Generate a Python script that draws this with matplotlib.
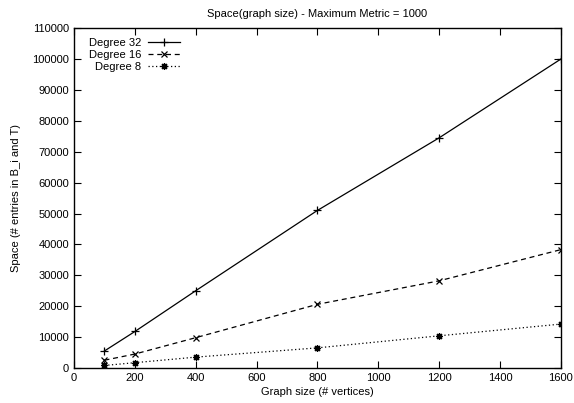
import matplotlib
matplotlib.use("Agg")
import matplotlib.pyplot as plt

# graph sizes (# vertices)
sizes = [100, 200, 400, 800, 1200, 1600]

# space (# entries in B_i and T) per degree
deg32 = [5500, 11800, 25000, 51000, 74500, 100000]
deg16 = [2500, 4500, 9800, 20600, 28200, 38300]
deg8 = [800, 1700, 3500, 6500, 10400, 14200]

xticks = list(range(0, 1601, 200))
yticks = list(range(0, 110001, 10000))

plt.rcParams['font.family'] = ['Liberation Sans', 'DejaVu Sans']
plt.rcParams['font.size'] = 8

fig = plt.figure(figsize=(5.74, 4.03), dpi=100)
ax = fig.add_axes([0.129, 0.087, 0.848, 0.843])

ax.plot(sizes, deg32, color='black', lw=0.9, marker='+', ms=6, mew=0.9,
        label='Degree 32')
ax.plot(sizes, deg16, color='black', lw=0.9, ls=(0, (4, 3)), marker='x',
        ms=4.5, mew=0.9, label='Degree 16')
ax.plot(sizes, deg8, color='black', lw=0.9, ls=(0, (1, 2)), marker=(8, 2, 0),
        ms=5, mew=0.9, label='Degree 8')

ax.set_xlim(0, 1600)
ax.set_ylim(0, 110000)
ax.set_xticks(xticks)
ax.set_yticks(yticks)
ax.tick_params(direction='in', length=5, width=0.8, top=True, right=True,
               colors='black', labelsize=8)
for s in ax.spines.values():
    s.set_linewidth(1.0)

ax.set_title('Space(graph size) - Maximum Metric = 1000', fontsize=8, pad=8)
ax.set_xlabel('Graph size (# vertices)', fontsize=8, labelpad=3)
ax.set_ylabel('Space (# entries in B_i and T)', fontsize=8, labelpad=8)

ax.legend(loc='upper left', bbox_to_anchor=(0.014, 0.994), frameon=False,
          markerfirst=False, handlelength=2.9, handletextpad=0.6,
          labelspacing=0.18, borderaxespad=0.3, fontsize=8)

fig.savefig('out.png', dpi=100)
